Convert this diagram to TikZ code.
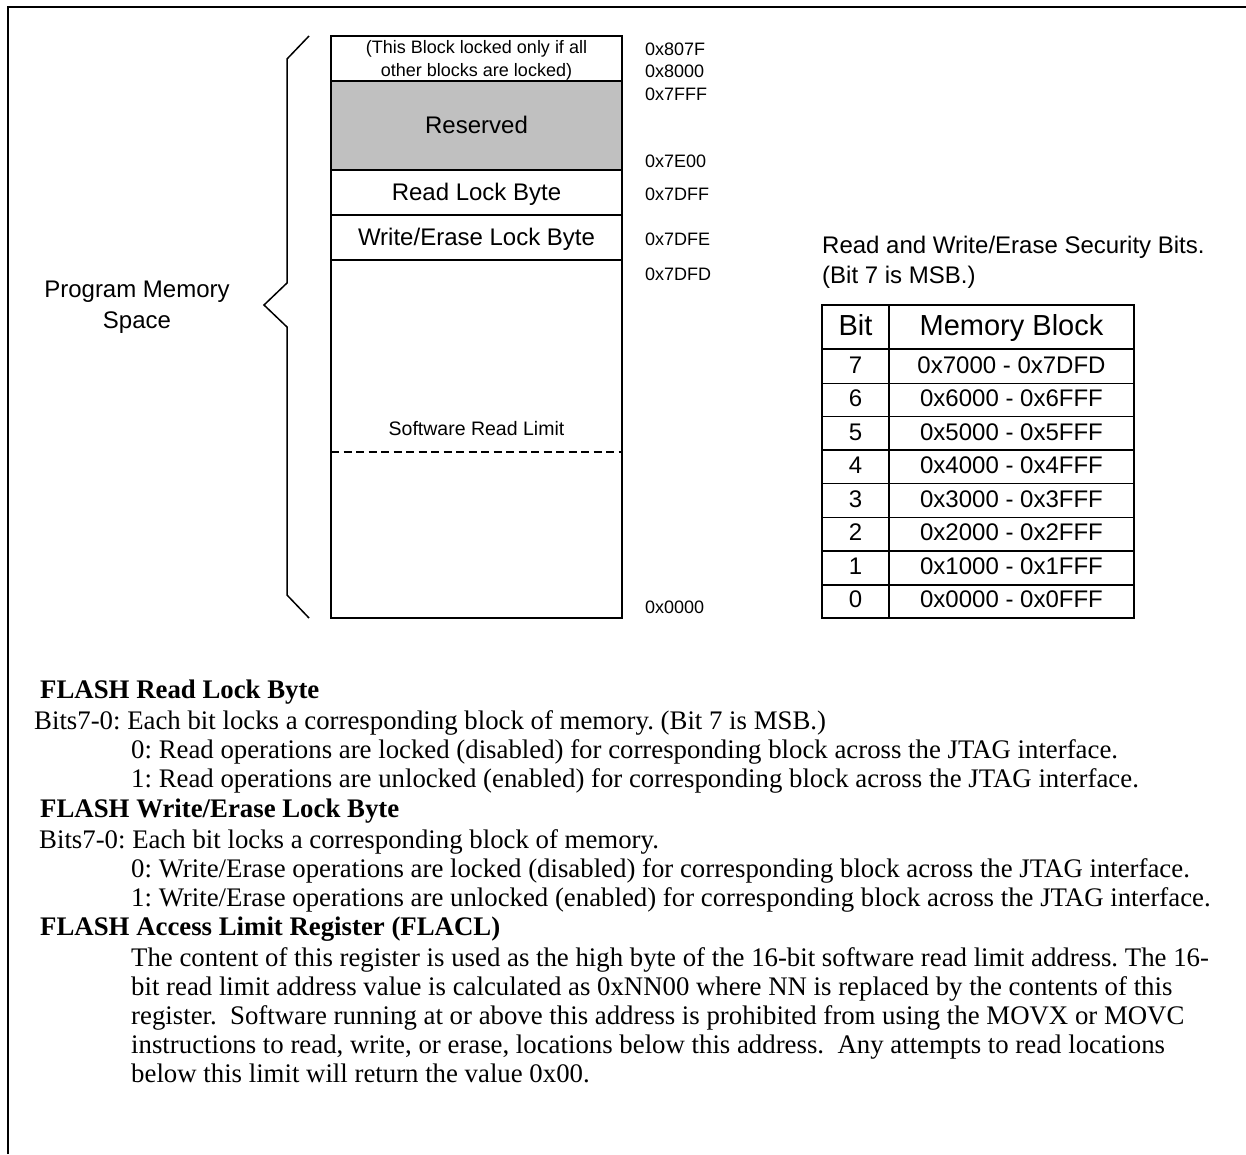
\documentclass[tikz,border=0pt]{standalone}
\usepackage{fontspec}
\setmainfont{Liberation Serif}
\newfontfamily\arial{Liberation Sans}
\definecolor{resgray}{HTML}{C0C0C0}
\frenchspacing
\begin{document}
\begin{tikzpicture}[x=1pt,y=-1pt,
  lbl/.style={font=\arial\fontsize{24}{28}\selectfont, inner sep=0pt, anchor=base},
  hdr/.style={font=\arial\fontsize{29}{33}\selectfont, inner sep=0pt, anchor=base},
  sm/.style={font=\arial\fontsize{18}{21}\selectfont, inner sep=0pt, anchor=base},
  addr/.style={font=\arial\fontsize{18}{21}\selectfont, inner sep=0pt, anchor=base west},
  ttl/.style={font=\arial\fontsize{24}{28}\selectfont, inner sep=0pt, anchor=base west},
  body/.style={font=\fontsize{26.8}{30}\selectfont, inner sep=0pt, anchor=base west},
  head/.style={font=\fontsize{26.8}{30}\selectfont\bfseries, inner sep=0pt, anchor=base west},
  memline/.style={line width=1.5pt},
  thick2/.style={line width=2pt},
  limitline/.style={line width=1.5pt, dash pattern=on 8pt off 4.5pt},
]
\useasboundingbox (0,0) rectangle (1246,1154);
% frame (top and left edges)
\draw[thick2] (8,1154) -- (8,7) -- (1246,7);

% memory map
\fill[resgray] (331,81) rectangle (622,170);
\draw[memline] (331,36) rectangle (622,618);
\draw[memline] (331,81) -- (622,81);
\draw[memline] (331,170) -- (622,170);
\draw[memline] (331,215) -- (622,215);
\draw[memline] (331,260) -- (622,260);
\draw[limitline] (331,452) -- (622,452);

% brace
\draw[memline, line join=miter] (309,36) -- (287,59) -- (287,283) -- (264,305) -- (287,327) -- (287,595) -- (309,618);

\node[lbl] (pm1) at (137,297) {Program Memory};
\node[lbl] (pm2) at (137,328) {Space};

\node[sm] (lk1) at (476.5,53.5) {(This Block locked only if all};
\node[sm] (lk2) at (476.5,76.5) {other blocks are locked)};
\node[lbl] (res) at (476.5,133.5) {Reserved};
\node[lbl] (rlb) at (476.5,200.5) {Read Lock Byte};
\node[lbl] (wlb) at (476.5,245.5) {Write/Erase Lock Byte};
\node[sm, font=\arial\fontsize{19.5}{22}\selectfont] (srl) at (476.5,435) {Software Read Limit};

\node[addr] (a1) at (645,55) {0x807F};
\node[addr] (a2) at (645,77) {0x8000};
\node[addr] (a3) at (645,100) {0x7FFF};
\node[addr] (a4) at (645,167) {0x7E00};
\node[addr] (a5) at (645,200) {0x7DFF};
\node[addr] (a6) at (645,245) {0x7DFE};
\node[addr] (a7) at (645,280) {0x7DFD};
\node[addr] (a8) at (645,613) {0x0000};

% security bits table
\node[ttl] (t1) at (822,253) {Read and Write/Erase Security Bits.};
\node[ttl] (t2) at (822,283) {(Bit 7 is MSB.)};

\draw[memline] (822,349) rectangle (1134,618);
\foreach \yy in {383.3,416.7,450,483.5,517.5,551,585}
  \draw[memline] (822,\yy) -- (1134,\yy);
\draw[memline] (889,349) -- (889,618);
\draw[thick2] (822,305) rectangle (1134,349);
\draw[thick2] (889,305) -- (889,349);

\node[hdr] (hb) at (855.5,335) {Bit};
\node[hdr] (hm) at (1011.5,335) {Memory Block};
\foreach \b/\r/\yy in {7/0x7000 - 0x7DFD/373.3, 6/0x6000 - 0x6FFF/406.7, 5/0x5000 - 0x5FFF/440,
  4/0x4000 - 0x4FFF/473.5, 3/0x3000 - 0x3FFF/507.3, 2/0x2000 - 0x2FFF/540.7,
  1/0x1000 - 0x1FFF/574, 0/0x0000 - 0x0FFF/607.3}{
  \node[lbl] (bit\b) at (855.5,\yy) {\b};
  \node[lbl] (rng\b) at (1011.5,\yy) {\r};
}

% description text
\node[head] (h1) at (40,698) {FLASH Read Lock Byte};
\node[body] (l1) at (34,729) {Bits7-0: Each bit locks a corresponding block of memory. (Bit 7 is MSB.)};
\node[body] (l2) at (131,758) {0: Read operations are locked (disabled) for corresponding block across the JTAG interface.};
\node[body] (l3) at (131,787) {1: Read operations are unlocked (enabled) for corresponding block across the JTAG interface.};
\node[head] (h2) at (40,817) {FLASH Write/Erase Lock Byte};
\node[body] (l4) at (39,848) {Bits7-0: Each bit locks a corresponding block of memory.};
\node[body] (l5) at (131,877) {0: Write/Erase operations are locked (disabled) for corresponding block across the JTAG interface.};
\node[body] (l6) at (131,906) {1: Write/Erase operations are unlocked (enabled) for corresponding block across the JTAG interface.};
\node[head] (h3) at (40,935) {FLASH Access Limit Register (FLACL)};
\node[body] (p1) at (131,966) {The content of this register is used as the high byte of the 16-bit software read limit address. The 16-};
\node[body] (p2) at (131,995) {bit read limit address value is calculated as 0xNN00 where NN is replaced by the contents of this};
\node[body] (p3) at (131,1024) {register.\ \ Software running at or above this address is prohibited from using the MOVX or MOVC};
\node[body] (p4) at (131,1053) {instructions to read, write, or erase, locations below this address.\ \ Any attempts to read locations};
\node[body] (p5) at (131,1082) {below this limit will return the value 0x00.};
\end{tikzpicture}
\end{document}
